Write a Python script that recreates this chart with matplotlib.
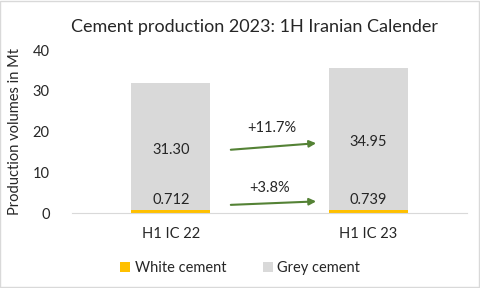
import matplotlib.pyplot as plt
from matplotlib.patches import Rectangle

plt.rcParams['font.family'] = ['Lato', 'DejaVu Sans']

categories = ["H1 IC 22", "H1 IC 23"]
white_cement = [0.712, 0.739]
grey_cement = [31.30, 34.95]
white_labels = ["0.712", "0.739"]
grey_labels = ["31.30", "34.95"]
growth_labels = ["+11.7%", "+3.8%"]

fig = plt.figure(figsize=(4.8, 2.88), dpi=100)
ax = fig.add_axes([0.15, 0.26, 0.823, 0.566])

x = [0, 1]
ax.bar(x, white_cement, width=0.4, color="#FFC000", label="White cement")
ax.bar(x, grey_cement, width=0.4, bottom=white_cement, color="#D9D9D9", label="Grey cement")

for i in x:
    ax.text(i, white_cement[i] + grey_cement[i] / 2 - 0.8, grey_labels[i],
            ha="center", va="center", fontsize=10.5, color="#262626")
    ax.text(i, 3.2, white_labels[i], ha="center", va="center", fontsize=10.5, color="#262626")

# growth arrows
arrow = dict(arrowstyle="-|>", color="#548235", lw=1.5, mutation_scale=10)
ax.annotate("", xy=(0.75, 17.2), xytext=(0.29, 15.5), arrowprops=arrow)
ax.annotate("", xy=(0.75, 2.9), xytext=(0.29, 2.0), arrowprops=arrow)
ax.text(0.51, 21.0, growth_labels[0], ha="center", va="center", fontsize=10.5, color="#262626")
ax.text(0.5, 6.2, growth_labels[1], ha="center", va="center", fontsize=10.5, color="#262626")

ax.set_xlim(-0.5, 1.5)
ax.set_ylim(0, 40)
ax.set_yticks([0, 10, 20, 30, 40])
ax.set_xticks(x)
ax.set_xticklabels(categories)
ax.tick_params(length=0, labelsize=10.5, colors="#262626", pad=10)
ax.tick_params(axis="y", pad=16)
for s in ["top", "right", "left"]:
    ax.spines[s].set_visible(False)
ax.spines["bottom"].set_color("#D9D9D9")

ax.set_ylabel("Production volumes in Mt", fontsize=10.5, color="#262626", labelpad=8)
fig.text(0.53, 0.905, "Cement production 2023: 1H Iranian Calender",
         ha="center", va="center", fontsize=13, color="#262626")

fig.legend(loc="center", bbox_to_anchor=(0.5, 0.07), ncol=2, frameon=False,
           fontsize=10.5, handlelength=0.7, handleheight=0.7, columnspacing=2.5,
           handletextpad=0.3, labelcolor="#262626")

fig.add_artist(Rectangle((0.001, 0.002), 0.997, 0.996, transform=fig.transFigure,
                         fill=False, edgecolor="#D9D9D9", lw=1))

fig.savefig("out.png", dpi=100)
